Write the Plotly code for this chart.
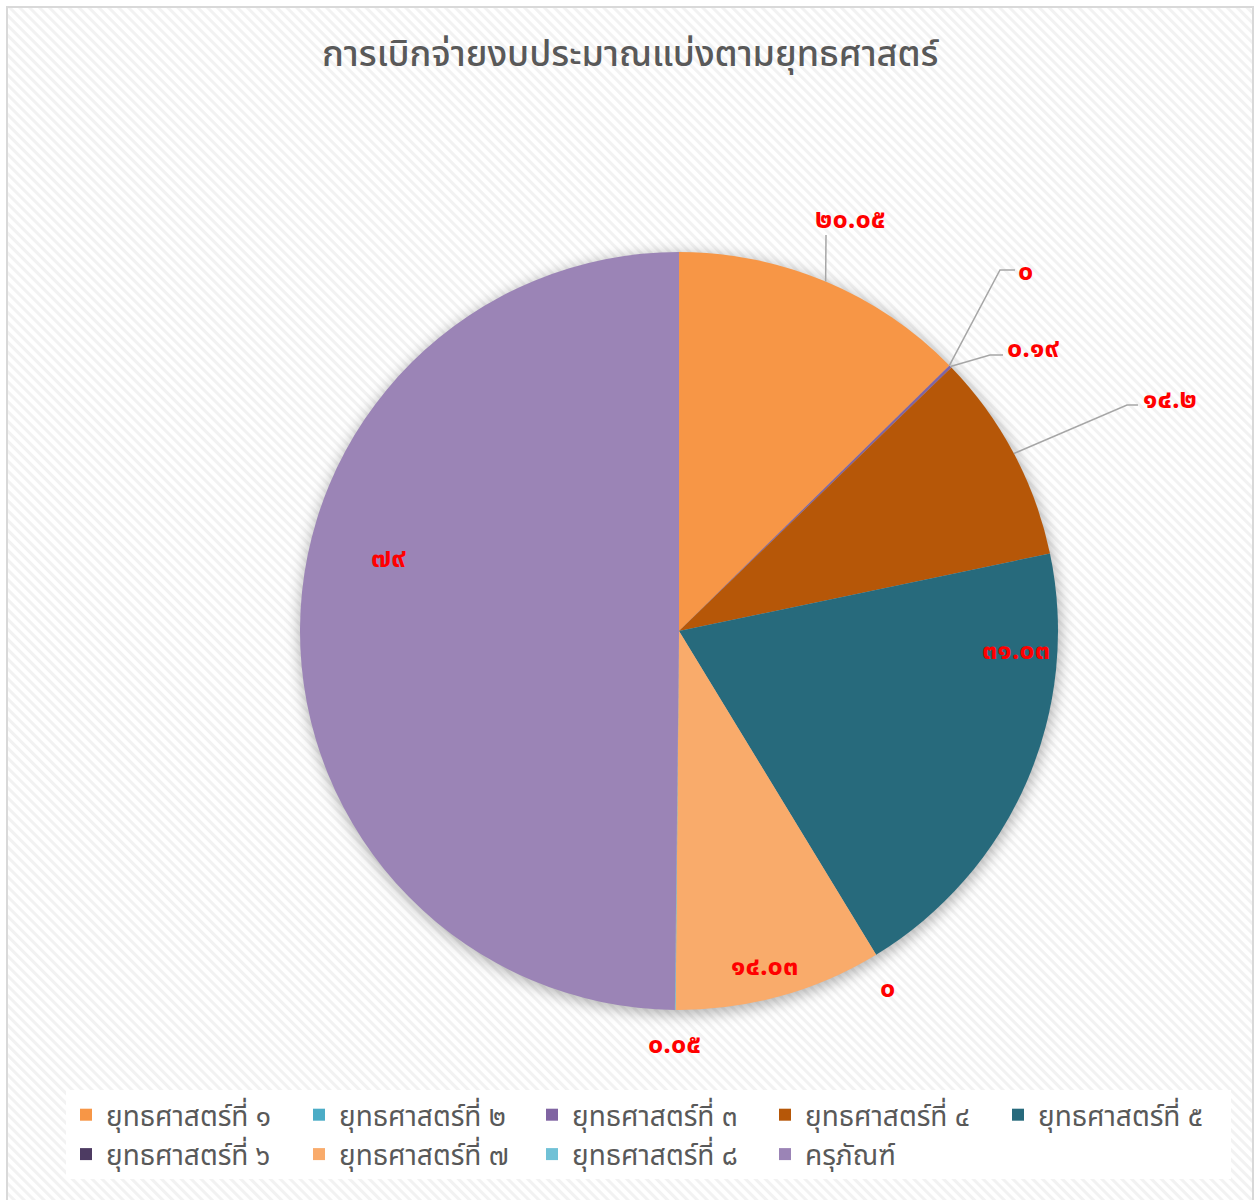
import math
import base64
import plotly.graph_objects as go

# ---------------- data ----------------
categories = ["ยุทธศาสตร์ที่ ๑", "ยุทธศาสตร์ที่ ๒", "ยุทธศาสตร์ที่ ๓", "ยุทธศาสตร์ที่ ๔",
              "ยุทธศาสตร์ที่ ๕", "ยุทธศาสตร์ที่ ๖", "ยุทธศาสตร์ที่ ๗", "ยุทธศาสตร์ที่ ๘",
              "ครุภัณฑ์"]
values = [20.05, 0, 0.19, 14.2, 31.03, 0, 14.03, 0.05, 79]
title_text = "การเบิกจ่ายงบประมาณแบ่งตามยุทธศาสตร์"

# ---------------- style ----------------
colors = ["#F79646", "#4BACC6", "#8064A2", "#B65708", "#276A7C",
          "#4D3B62", "#F9AB6B", "#70C1D6", "#9B84B6"]
W, H = 1257, 1200
CX, CY, R = 679, 631, 379          # pie centre / radius in pixels
THAI_FONT = "Noto Sans Thai, Tahoma, Leelawadee UI, sans-serif"

# label placement (pixel positions of label centres) and leader elbows
label_pos = [(850, 219), (1025, 271), (1033, 349), (1170, 399), (1016, 650),
             (887, 988), (764, 966), (674, 1044), (388, 558)]
leader = [[(826, 235)], [(1000, 270), (1015, 270)], [(990, 355), (1003, 355)],
          [(1127, 405), (1138, 405)], None, None, None, None, None]

thai_digits = str.maketrans("0123456789", "๐๑๒๓๔๕๖๗๘๙")


def fmt(v):
    return f"{v:g}".translate(thai_digits)


def px(x):
    return x / W


def py(y):
    return 1 - y / H


# background: diagonal stripes + border + pie shadow (embedded svg)
svg = f'''<svg xmlns="http://www.w3.org/2000/svg" width="{W}" height="{H}" viewBox="0 0 {W} {H}">
<defs>
<pattern id="p" width="7" height="7" patternUnits="userSpaceOnUse" patternTransform="rotate(-45)">
<rect width="7" height="7" fill="#ffffff"/><rect width="3" height="7" fill="#f2f2f2"/>
</pattern>
<filter id="b" x="-20%" y="-20%" width="140%" height="140%"><feGaussianBlur stdDeviation="7"/></filter>
</defs>
<rect x="7" y="7" width="1246" height="1210" fill="url(#p)" stroke="#d9d9d9" stroke-width="2"/>
<circle cx="{CX+1}" cy="{CY+3}" r="{R+2}" fill="#000" fill-opacity="0.28" filter="url(#b)"/>
</svg>'''
bg_src = "data:image/svg+xml;base64," + base64.b64encode(svg.encode("utf-8")).decode()

fig = go.Figure(go.Pie(
    labels=categories, values=values, sort=False, direction="clockwise",
    rotation=0, textinfo="none", hoverinfo="label+value",
    marker=dict(colors=colors, line=dict(width=0)),
    domain=dict(x=[px(CX - R), px(CX + R)], y=[py(CY + R), py(CY - R)]),
))

# compute mid angles for leader start points
total = sum(values)
cum = 0
annotations = []
shapes = []
for i, v in enumerate(values):
    mid = (cum + v / 2) / total * 2 * math.pi
    cum += v
    sx = CX + R * math.sin(mid)
    sy = CY - R * math.cos(mid)
    lx, ly = label_pos[i]
    annotations.append(dict(
        x=px(lx), y=py(ly), xref="paper", yref="paper", text=fmt(v), showarrow=False,
        font=dict(family=THAI_FONT, size=27, color="#FF0000", weight="bold"),
        xanchor="center", yanchor="middle"))
    if leader[i]:
        pts = [(sx, sy)] + leader[i]
        path = "M " + " L ".join(f"{px(a)},{py(b)}" for a, b in pts)
        shapes.append(dict(type="path", path=path, xref="paper", yref="paper",
                           line=dict(color="#A6A6A6", width=1.5)))

annotations.append(dict(
    x=px(631), y=py(55), xref="paper", yref="paper", text=title_text, showarrow=False,
    font=dict(family=THAI_FONT, size=36, color="#595959", weight=500),
    xanchor="center", yanchor="middle"))

fig.update_layout(
    width=W, height=H,
    margin=dict(l=0, r=0, t=0, b=0),
    paper_bgcolor="#ffffff", plot_bgcolor="rgba(0,0,0,0)",
    images=[dict(source=bg_src, xref="paper", yref="paper", x=0, y=1,
                 sizex=1, sizey=1, xanchor="left", yanchor="top",
                 sizing="stretch", layer="below")],
    annotations=annotations, shapes=shapes,
    showlegend=True,
    legend=dict(orientation="h", x=px(66), y=py(1090), xanchor="left", yanchor="top",
                bgcolor="#ffffff", entrywidth=188, entrywidthmode="pixels",
                font=dict(family=THAI_FONT, size=28, color="#595959"),
                traceorder="normal", itemclick=False),
)

fig.write_html("out.html", config={"displayModeBar": False},
               post_script="document.body.style.margin='0px';document.body.style.overflow='hidden';")
